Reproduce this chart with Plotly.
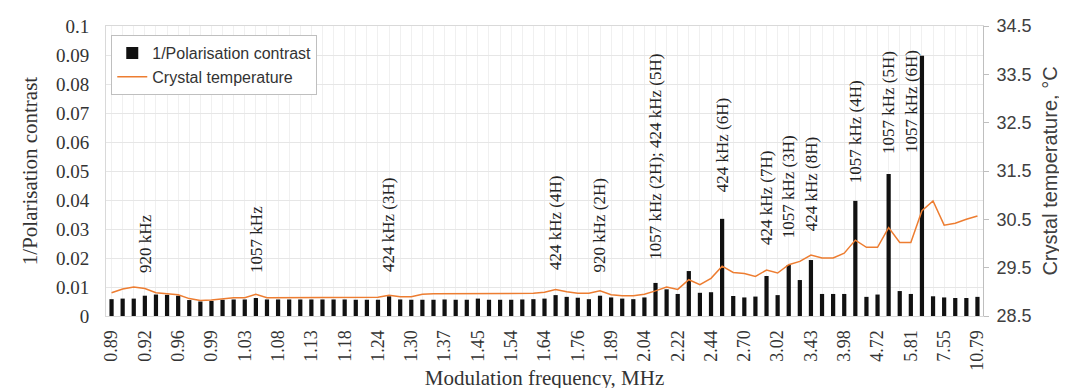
import plotly.graph_objects as go

# modulation frequency categories, MHz (every bar)
freq = ["0.89", "0.90", "0.91", "0.92", "0.93", "0.95", "0.96", "0.97", "0.98", "0.99",
        "1.01", "1.02", "1.03", "1.05", "1.07", "1.08", "1.10", "1.11", "1.13", "1.15",
        "1.16", "1.18", "1.20", "1.22", "1.24", "1.26", "1.28", "1.30", "1.33", "1.35",
        "1.37", "1.40", "1.43", "1.45", "1.48", "1.51", "1.54", "1.58", "1.61", "1.64",
        "1.68", "1.72", "1.76", "1.80", "1.84", "1.89", "1.94", "1.99", "2.04", "2.10",
        "2.16", "2.22", "2.29", "2.36", "2.44", "2.52", "2.61", "2.70", "2.80", "2.91",
        "3.02", "3.15", "3.29", "3.43", "3.60", "3.78", "3.98", "4.20", "4.45", "4.72",
        "5.04", "5.40", "5.81", "6.30", "6.87", "7.55", "8.39", "9.44", "10.79"]

# labels that are printed on the axis
tick_labels = ["0.89", "0.92", "0.96", "0.99", "1.03", "1.08", "1.13", "1.18", "1.24",
               "1.30", "1.37", "1.45", "1.54", "1.64", "1.76", "1.89", "2.04", "2.22",
               "2.44", "2.70", "3.02", "3.43", "3.98", "4.72", "5.81", "7.55", "10.79"]

inv_contrast = [0.0058, 0.0060, 0.0060, 0.0070, 0.0074, 0.0073, 0.0070, 0.0055, 0.0050, 0.0052,
                0.0056, 0.0057, 0.0057, 0.0062, 0.0057, 0.0057, 0.0057, 0.0057, 0.0057, 0.0057,
                0.0057, 0.0057, 0.0056, 0.0056, 0.0056, 0.0068, 0.0057, 0.0056, 0.0056, 0.0056,
                0.0057, 0.0056, 0.0056, 0.0060, 0.0056, 0.0056, 0.0056, 0.0057, 0.0058, 0.0060,
                0.0072, 0.0066, 0.0063, 0.0058, 0.0070, 0.0064, 0.0060, 0.0058, 0.0064, 0.0114,
                0.0092, 0.0076, 0.0155, 0.0080, 0.0082, 0.0335, 0.0069, 0.0064, 0.0067, 0.0138,
                0.0072, 0.0176, 0.0124, 0.0193, 0.0076, 0.0076, 0.0076, 0.0397, 0.0066, 0.0074,
                0.0490, 0.0086, 0.0076, 0.0897, 0.0068, 0.0064, 0.0062, 0.0062, 0.0066]

crystal_temp = [28.98, 29.06, 29.10, 29.07, 28.98, 28.96, 28.94, 28.86, 28.82, 28.83,
                28.86, 28.88, 28.88, 28.95, 28.88, 28.88, 28.88, 28.88, 28.88, 28.88,
                28.88, 28.88, 28.88, 28.88, 28.89, 28.93, 28.90, 28.90, 28.95, 28.96,
                28.96, 28.96, 28.96, 28.96, 28.96, 28.96, 28.96, 28.97, 28.97, 28.99,
                29.05, 29.00, 28.97, 28.97, 29.02, 28.94, 28.92, 28.92, 28.95, 29.02,
                29.10, 29.05, 29.25, 29.15, 29.28, 29.53, 29.40, 29.38, 29.32, 29.45,
                29.39, 29.56, 29.63, 29.76, 29.70, 29.70, 29.80, 30.07, 29.92, 29.92,
                30.33, 30.02, 30.02, 30.68, 30.88, 30.38, 30.42, 30.50, 30.57]

# peak labels
ann_freq = ["0.92", "1.05", "1.26", "1.68", "1.84", "2.10", "2.52", "2.91", "3.15",
            "3.43", "4.20", "5.04", "6.30"]
ann_text = ["920 kHz", "1057 kHz", "424 kHz (3H)", "424 kHz (4H)", "920 kHz (2H)",
            "1057 kHz (2H); 424 kHz (5H)", "424 kHz (6H)", "424 kHz (7H)", "1057 kHz (3H)",
            "424 kHz (8H)", "1057 kHz (4H)", "1057 kHz (5H)", "1057 kHz (6H)"]
ann_y = [0.0143, 0.0143, 0.0145, 0.0150, 0.0143, 0.0185, 0.0420, 0.0236, 0.0262,
         0.0285, 0.0450, 0.0552, 0.0557]

serif = "Liberation Serif"
sans = "Liberation Sans"

fig = go.Figure()
fig.add_trace(go.Bar(x=freq, y=inv_contrast, name="1/Polarisation contrast",
                     marker=dict(color="#111111", line=dict(width=0))))
fig.add_trace(go.Scatter(x=freq, y=crystal_temp, name="Crystal temperature", mode="lines",
                         line=dict(color="#ED7D31", width=1.5), yaxis="y2"))

for f, t, y in zip(ann_freq, ann_text, ann_y):
    # category axis: place by category position
    fig.add_annotation(x=freq.index(f), y=y, text=t, showarrow=False, textangle=-90,
                       xanchor="center", yanchor="bottom",
                       xshift=-10 if t == "1057 kHz (6H)" else 0,
                       font=dict(family=serif, size=17, color="#222222"))

fig.update_layout(
    width=1067, height=388,
    margin=dict(l=98, r=92, t=18, b=80),
    paper_bgcolor="white", plot_bgcolor="white",
    bargap=0.62,
    showlegend=True,
    legend=dict(x=0.006, y=0.969, xanchor="left", yanchor="top",
                bordercolor="#bfbfbf", borderwidth=1, bgcolor="white",
                font=dict(family=sans, size=16, color="#333333")),
    xaxis=dict(type="category", tickmode="array", tickvals=freq,
               ticktext=[f if f in tick_labels else "" for f in freq],
               tickangle=-90, ticklabelstandoff=6,
               tickfont=dict(family=serif, size=18, color="#333333"),
               showgrid=True, gridcolor="#f0f0f0",
               showline=True, linecolor="#d9d9d9", mirror=True,
               title=dict(text="Modulation frequency, MHz", standoff=0,
                          font=dict(family=serif, size=21, color="#333333")),
               automargin=False),
    yaxis=dict(range=[0, 0.1], dtick=0.01, ticklabelstandoff=12,
               tickfont=dict(family=serif, size=19, color="#333333"),
               showgrid=True, gridcolor="#e6e6e6", zeroline=False,
               showline=True, linecolor="#d9d9d9", mirror=True,
               title=dict(text="1/Polarisation contrast", standoff=12,
                          font=dict(family=serif, size=21, color="#333333")),
               automargin=False),
    yaxis2=dict(overlaying="y", side="right", range=[28.5, 34.5], tick0=28.5, dtick=1,
                tickformat=".1f", showgrid=False, zeroline=False,
                showline=True, linecolor="#bfbfbf", ticks="outside", ticklen=5,
                tickcolor="#bfbfbf", ticklabelstandoff=4,
                tickfont=dict(family=sans, size=18, color="#404040"),
                title=dict(text="Crystal temperature, °C", standoff=12,
                           font=dict(family=sans, size=20, color="#404040")),
                automargin=False),
)

fig.write_html("out.html")
